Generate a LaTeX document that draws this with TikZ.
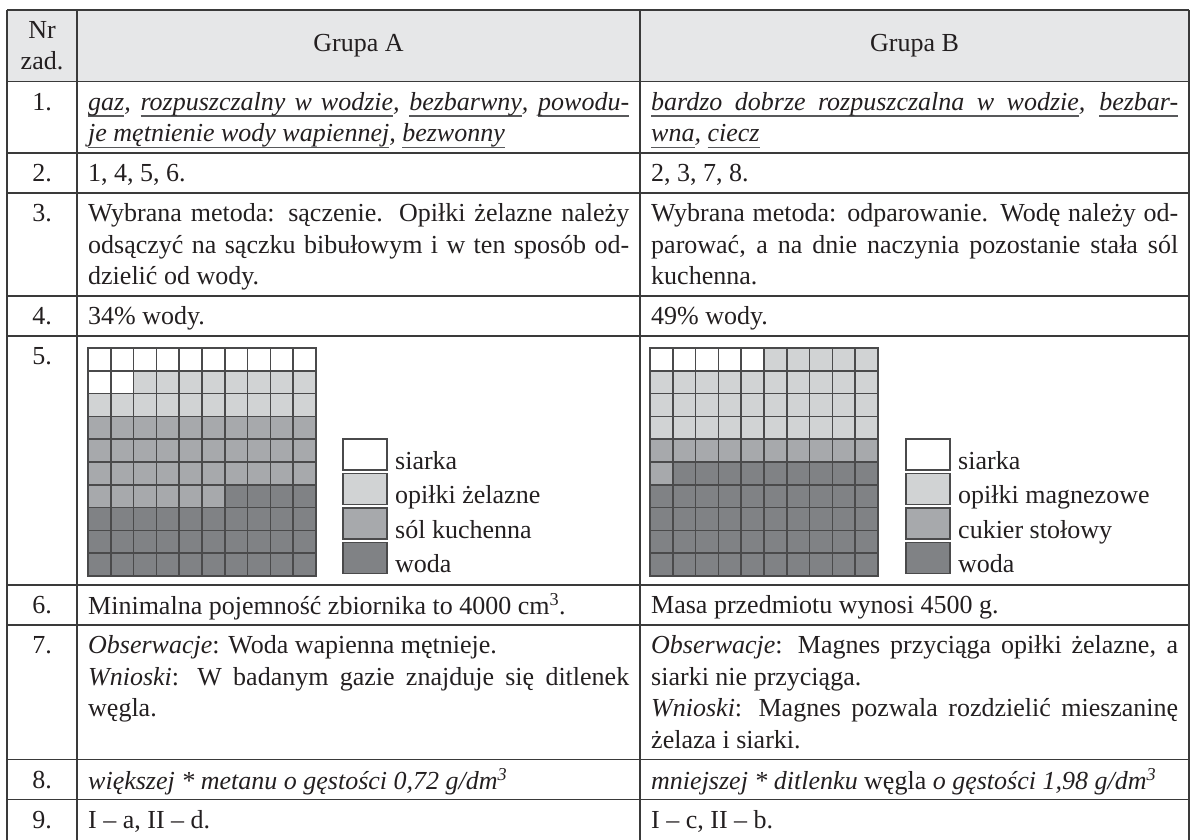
\documentclass[tikz,border=0pt]{standalone}
\usepackage{fontspec}
\setmainfont{Liberation Serif}
\tolerance=10000 \hbadness=10000 \hyphenpenalty=10000
\setlength\parindent{0pt}
\newcommand\firstln{\rule{0pt}{20pt}}
\newcommand\uw[1]{\leavevmode\sbox0{#1}\rlap{\color{ulc}\rule[-6.2pt]{\wd0}{1.2pt}}\copy0}
\newcommand\us{{\color{ulc}\leaders\hrule height -5pt depth 6.2pt\hskip\fontdimen2\font plus\fontdimen3\font minus\fontdimen4\font\relax}}
\definecolor{ink}{HTML}{231F20}
\definecolor{ulc}{HTML}{58595B}
\definecolor{linec}{HTML}{3A3A3A}
\definecolor{headf}{HTML}{E6E7E8}
\definecolor{cw}{HTML}{FFFFFF}
\definecolor{cl}{HTML}{D1D3D4}
\definecolor{cm}{HTML}{A7A9AC}
\definecolor{cd}{HTML}{808285}
\definecolor{gridc}{HTML}{4A4A4B}
\begin{document}
\begin{tikzpicture}[x=1pt,y=-1pt,
  txt/.style={font=\fontsize{26}{31.5}\selectfont, text=ink, inner sep=0pt},
  cellA/.style={txt, anchor=north west, text width=541pt, align=justify},
  cellB/.style={txt, anchor=north west, text width=527pt, align=justify},
  num/.style={txt, anchor=base},
  rule/.style={draw=linec, line width=1.6pt},
  sq/.style={draw=gridc, line width=1.5pt},
  legtxt/.style={txt, anchor=base west}]
\useasboundingbox (0,0) rectangle (1194,839);
% header background
\fill[headf] (7,10) rectangle (1189,81.5);
% row boundaries
\foreach \yy in {10,81.5,153,193,296,336,585,625,759.5,799.5,842}
  \draw[rule] (7,\yy) -- (1189,\yy);
\foreach \xx in {7,77,640,1189}
  \draw[rule] (\xx,10) -- (\xx,842);
% header
\node[txt, align=center] (hnr) at (42,45.75) {Nr\\zad.};
\node[txt] (hA) at (358.5,45.75) {Grupa A};
\node[txt] (hB) at (914.5,45.75) {Grupa B};
% numbers
\foreach \t/\n in {81.5/1,153/2,193/3,296/4,336/5,585/6,625/7,759.5/8,799.5/9}
  \node[num] (n\n) at (42,\t+28.6) {\n.};
% row 1
\node[cellA] (a1) at (88,90.1) {\firstln\itshape\uw{gaz}, \uw{rozpuszczalny}\us\uw{w}\us\uw{wodzie}, \uw{bezbarwny}, \uw{powodu-}\linebreak\uw{je}\us\uw{mętnienie}\us\uw{wody}\us\uw{wapiennej}, \uw{bezwonny}};
\node[cellB] (b1) at (651,90.1) {\firstln\itshape\uw{bardzo}\us\uw{dobrze}\us\uw{rozpuszczalna}\us\uw{w}\us\uw{wodzie}, \uw{bezbar-}\linebreak\uw{wna}, \uw{ciecz}};
% row 2
\node[cellA] (a2) at (88,161.6) {\firstln 1, 4, 5, 6.};
\node[cellB] (b2) at (651,161.6) {\firstln 2, 3, 7, 8.};
% row 3
\node[cellA] (a3) at (88,201.6) {\firstln Wybrana metoda: sączenie. Opiłki żelazne należy\linebreak odsączyć na sączku bibułowym i w ten sposób od-\linebreak dzielić od wody.};
\node[cellB] (b3) at (651,201.6) {\firstln Wybrana metoda: odparowanie. Wodę należy od-\linebreak parować, a na dnie naczynia pozostanie stała sól\linebreak kuchenna.};
% row 4
\node[cellA] (a4) at (88,304.6) {\firstln 34\% wody.};
\node[cellB] (b4) at (651,304.6) {\firstln 49\% wody.};
% row 5 grids
\foreach \r in {0,...,9}{\foreach \c in {0,...,9}{
  \pgfmathtruncatemacro\k{\r*10+\c}
  \ifnum\k<12 \def\cc{cw}\else\ifnum\k<30 \def\cc{cl}\else\ifnum\k<66 \def\cc{cm}\else\def\cc{cd}\fi\fi\fi
  \filldraw[sq, fill=\cc] (88+\c*22.8,348+\r*22.8) rectangle ++(22.8,22.8);
  \ifnum\k<5 \def\cc{cw}\else\ifnum\k<40 \def\cc{cl}\else\ifnum\k<51 \def\cc{cm}\else\def\cc{cd}\fi\fi\fi
  \filldraw[sq, fill=\cc] (650+\c*22.8,348+\r*22.8) rectangle ++(22.8,22.8);
}}
% legends
\foreach \i/\cc/\la/\lb in {0/cw/siarka/siarka,1/cl/opiłki żelazne/opiłki magnezowe,2/cm/sól kuchenna/cukier stołowy,3/cd/woda/woda}{
  \filldraw[sq, fill=\cc] (343,439+\i*34.5) rectangle ++(44,31);
  \node[legtxt] (la\i) at (395,439+\i*34.5+30) {\la};
  \filldraw[sq, fill=\cc] (906,439+\i*34.5) rectangle ++(44,31);
  \node[legtxt] (lb\i) at (958,439+\i*34.5+30) {\lb};
}
% row 6
\node[cellA] (a6) at (88,593.6) {\firstln Minimalna pojemność zbiornika to 4000~cm\textsuperscript{3}.};
\node[cellB] (b6) at (651,593.6) {\firstln Masa przedmiotu wynosi 4500 g.};
% row 7
\node[cellA] (a7) at (88,633.6) {\firstln\textit{Obserwacje}: Woda wapienna mętnieje.\\ \textit{Wnioski}: W badanym gazie znajduje się ditlenek\linebreak węgla.};
\node[cellB] (b7) at (651,633.6) {\firstln\textit{Obserwacje}: Magnes przyciąga opiłki żelazne, a\linebreak siarki nie przyciąga.\\ \textit{Wnioski}: Magnes pozwala rozdzielić mieszaninę\linebreak żelaza i siarki.};
% row 8
\node[cellA] (a8) at (88,768.1) {\firstln\textit{większej * metanu o gęstości 0,72 g/dm\textsuperscript{3}}};
\node[cellB] (b8) at (651,768.1) {\firstln\textit{mniejszej * ditlenku} węgla \textit{o gęstości 1,98 g/dm\textsuperscript{3}}};
% row 9
\node[cellA] (a9) at (88,808.1) {\firstln I – a, II – d.};
\node[cellB] (b9) at (651,808.1) {\firstln I – c, II – b.};
\end{tikzpicture}
\end{document}
